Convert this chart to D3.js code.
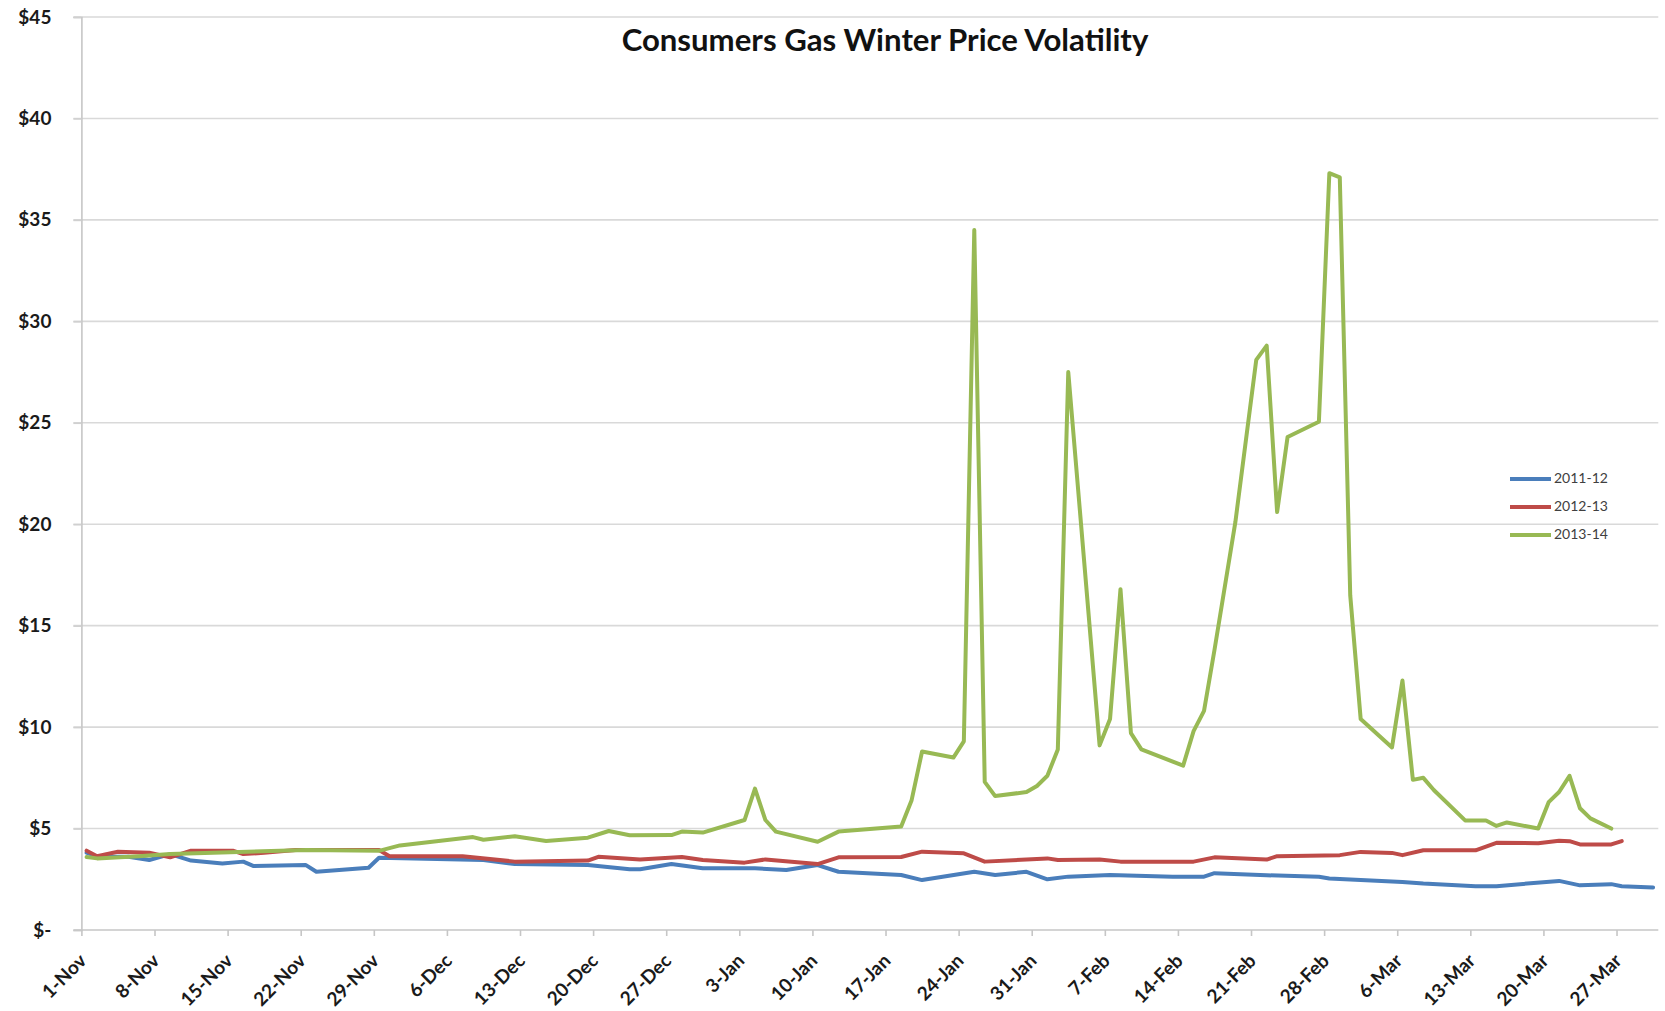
<!DOCTYPE html>
<html>
<head>
<meta charset="utf-8">
<script src="https://cdn.jsdelivr.net/npm/d3@7"></script>
<style>
  html, body { margin: 0; padding: 0; background: #ffffff; }
  svg { display: block; }
</style>
</head>
<body>
<svg id="chart" width="1665" height="1011"></svg>
<script>
// ---------- DATA ----------
const chartTitle = "Consumers Gas Winter Price Volatility";
const seriesNames = ["2011-12", "2012-13", "2013-14"];
const categoryCount = 151; // 1-Nov .. 30-Mar (daily categories)
const tickLabels = ["1-Nov","8-Nov","15-Nov","22-Nov","29-Nov","6-Dec","13-Dec","20-Dec","27-Dec",
  "3-Jan","10-Jan","17-Jan","24-Jan","31-Jan","7-Feb","14-Feb","21-Feb","28-Feb",
  "6-Mar","13-Mar","20-Mar","27-Mar"];
const tickDays = [0,7,14,21,28,35,42,49,56,63,70,77,84,91,98,105,112,119,126,133,140,147];
const yTickValues = [0,5,10,15,20,25,30,35,40,45];
const yTickLabels = ["$-","$5","$10","$15","$20","$25","$30","$35","$40","$45"];

// 2011-12 (day index from 1-Nov, price $/GJ)
const days2011 = [0,1,4,6,8,10,13,15,16,21,22,27,28,38,41,48,52,53,56,59,64,67,70,72,78,80,85,87,90,92,94,98,104,107,108,113,118,119,126,128,133,135,141,143,146,147,150];
const price2011 = [3.81,3.61,3.61,3.45,3.74,3.42,3.28,3.37,3.15,3.2,2.87,3.07,3.56,3.45,3.25,3.2,2.99,2.99,3.25,3.04,3.04,2.96,3.2,2.87,2.71,2.46,2.87,2.71,2.87,2.5,2.63,2.71,2.63,2.63,2.8,2.7,2.62,2.54,2.37,2.29,2.16,2.16,2.42,2.2,2.26,2.16,2.1];

// 2012-13
const days2012 = [0,1,3,6,8,10,14,15,17,20,28,29,36,41,48,49,53,57,59,63,65,70,72,78,80,84,86,92,93,97,99,106,108,113,114,120,122,125,126,128,133,135,139,141,142,143,146,147];
const price2012 = [3.91,3.64,3.86,3.81,3.58,3.91,3.91,3.74,3.81,3.94,3.94,3.64,3.64,3.37,3.42,3.61,3.48,3.6,3.45,3.32,3.48,3.25,3.58,3.6,3.86,3.78,3.37,3.53,3.45,3.48,3.37,3.37,3.58,3.47,3.64,3.69,3.85,3.8,3.69,3.93,3.93,4.3,4.28,4.4,4.38,4.22,4.22,4.38];

// 2013-14
const days2013 = [0,1,5,8,21,28,30,37,38,41,44,48,50,52,56,57,59,63,64,65,66,70,72,78,79,80,83,84,85,86,87,90,91,92,93,94,97,98,99,100,101,105,106,107,108,110,112,113,114,115,118,119,120,121,122,125,126,127,128,129,132,134,135,136,138,139,140,141,142,143,144,146];
const price2013 = [3.6,3.53,3.64,3.74,3.94,3.9,4.17,4.58,4.45,4.62,4.39,4.55,4.88,4.67,4.68,4.85,4.8,5.42,6.97,5.42,4.85,4.35,4.85,5.1,6.4,8.8,8.5,9.3,34.5,7.3,6.6,6.8,7.1,7.6,8.9,27.5,9.1,10.4,16.8,9.7,8.9,8.1,9.8,10.8,13.8,20.1,28.1,28.8,20.6,24.3,25.05,37.3,37.1,16.5,10.4,9.0,12.3,7.4,7.5,6.9,5.4,5.4,5.13,5.3,5.1,5.0,6.3,6.8,7.6,6.0,5.5,5.0];

const seriesColors = ["#4a7ebb", "#be4b48", "#98b954"];

// ---------- LAYOUT ----------
const svg = d3.select("#chart");
const plotLeft = 81.4, plotRight = 1658.3, plotTop = 17, plotBottom = 930;
const font = "Lato, 'Open Sans', 'Liberation Sans', sans-serif";

const x = d3.scaleLinear().domain([0, categoryCount]).range([plotLeft, plotRight]);
const y = d3.scaleLinear().domain([0, 45]).range([plotBottom, plotTop]);

// gridlines
svg.append("g")
  .selectAll("line")
  .data(yTickValues.filter(v => v > 0))
  .join("line")
  .attr("x1", plotLeft - 8).attr("x2", plotRight)
  .attr("y1", d => y(d)).attr("y2", d => y(d))
  .attr("stroke", "#d9d9d9").attr("stroke-width", 1.6);

// y axis
const yAxis = d3.axisLeft(y).tickValues(yTickValues).tickSize(8)
  .tickFormat((d, i) => yTickLabels[i]);
const yg = svg.append("g").attr("transform", `translate(${plotLeft},0)`).call(yAxis);
yg.select(".domain").attr("stroke", "#c6c6c6").attr("stroke-width", 1.6);
yg.selectAll(".tick line").attr("stroke", "#d0d0d0").attr("stroke-width", 1.6);
yg.selectAll(".tick text")
  .attr("x", -30)
  .attr("font-family", font).attr("font-weight", "bold").attr("font-size", 19)
  .attr("fill", "#1a1a1a");

// x axis
const xAxis = d3.axisBottom(x).tickValues(tickDays).tickSize(6).tickFormat("");
const xg = svg.append("g").attr("transform", `translate(0,${plotBottom})`).call(xAxis);
xg.select(".domain").attr("stroke", "#c6c6c6").attr("stroke-width", 1.6)
  .attr("d", `M${plotLeft - 8},0H${plotRight}`);
xg.selectAll(".tick line").attr("stroke", "#c6c6c6").attr("stroke-width", 1.6);

// x tick labels rotated
svg.append("g")
  .selectAll("text")
  .data(tickDays)
  .join("text")
  .attr("transform", (d) => `translate(${x(d + 0.5) + 1},${plotBottom + 32}) rotate(-45)`)
  .attr("text-anchor", "end")
  .attr("font-family", font).attr("font-weight", "bold").attr("font-size", 19)
  .attr("fill", "#1a1a1a")
  .text((d, i) => tickLabels[i]);

// lines
const seriesData = [
  days2011.map((d, i) => ({ day: d, value: price2011[i] })),
  days2012.map((d, i) => ({ day: d, value: price2012[i] })),
  days2013.map((d, i) => ({ day: d, value: price2013[i] }))
];
const line = d3.line().x(d => x(d.day + 0.5)).y(d => y(d.value));
svg.append("g")
  .selectAll("path")
  .data(seriesData)
  .join("path")
  .attr("d", line)
  .attr("fill", "none")
  .attr("stroke", (d, i) => seriesColors[i])
  .attr("stroke-width", 4)
  .attr("stroke-linejoin", "round")
  .attr("stroke-linecap", "round");

// title
const title = svg.append("text")
  .attr("x", 885).attr("y", 43)
  .attr("text-anchor", "middle").attr("dominant-baseline", "middle")
  .attr("font-family", font).attr("font-weight", "bold").attr("font-size", 24)
  .attr("fill", "#111")
  .text(chartTitle);
// fit title to its width in the reference
const tw = title.node().getComputedTextLength();
title.attr("font-size", 24 * 527 / tw);

// legend
const legendY = [479, 507, 535];
const lg = svg.append("g");
seriesNames.forEach((name, i) => {
  lg.append("line")
    .attr("x1", 1510).attr("x2", 1551)
    .attr("y1", legendY[i]).attr("y2", legendY[i])
    .attr("stroke", seriesColors[i]).attr("stroke-width", 4);
  lg.append("text")
    .attr("x", 1554).attr("y", legendY[i])
    .attr("dominant-baseline", "middle")
    .attr("font-family", font).attr("font-size", 14)
    .attr("fill", "#404040")
    .text(name);
});
</script>
</body>
</html>
